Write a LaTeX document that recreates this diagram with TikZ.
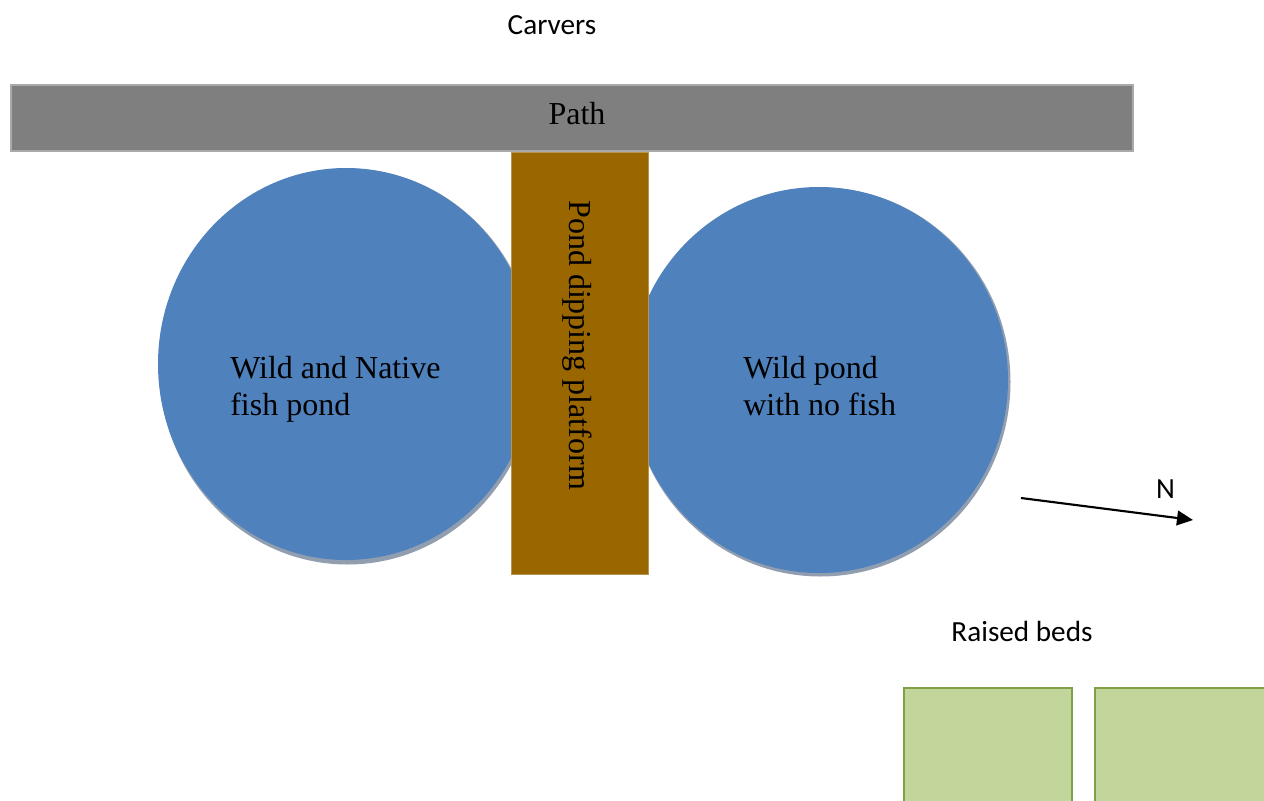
\documentclass[tikz,border=0pt]{standalone}
\usepackage{fontspec}
\usetikzlibrary{arrows.meta}
\setmainfont{Liberation Serif}
\newfontfamily\calib{Carlito}
\definecolor{pondblue}{RGB}{79,129,189}
\definecolor{pondshadow}{RGB}{145,158,175}
\definecolor{pathgrey}{RGB}{127,127,127}
\definecolor{pathedge}{RGB}{170,170,170}
\definecolor{deckbrown}{RGB}{153,102,0}
\definecolor{bedgreen}{RGB}{194,214,155}
\definecolor{bededge}{RGB}{128,160,70}
\tikzset{
  x=0.75pt,y=-0.75pt,
  serif/.style={font=\fontsize{24}{27.8}\selectfont,text=black,inner sep=0pt},
  sans/.style={font=\calib\fontsize{21.9}{26}\selectfont,text=black,inner sep=0pt},
  bed/.style={draw=bededge,line width=1.5pt,fill=bedgreen},
}
\begin{document}
\begin{tikzpicture}
\useasboundingbox (0,0) rectangle (1264,800);
% ponds with their shadows
\fill[pondshadow] (347.5,366.5) ellipse [x radius=188.5,y radius=198];
\fill[pondblue] (346,364) ellipse [x radius=188,y radius=196];
\fill[pondshadow] (820.5,382) ellipse [x radius=190,y radius=194.5];
\fill[pondblue] (819,380) ellipse [x radius=189,y radius=193];
% path
\draw[draw=pathedge,line width=1.5pt,fill=pathgrey] (10.5,85) rectangle (1133,151);
\node[serif,anchor=base] (pathlabel) at (577,124) {Path};
% platform
\draw[draw=deckbrown!70!white,line width=0.4pt,fill=deckbrown] (511.5,152) rectangle (648.5,574);
\node[serif,rotate=-90,anchor=base west] (platform) at (569,200) {Pond dipping platform};
% pond labels
\node[serif,anchor=base west] (wildnative1) at (230,378) {Wild and Native};
\node[serif,anchor=base west] (wildnative2) at (230,415) {fish pond};
\node[serif,anchor=base west] (wild1) at (743,378) {Wild pond};
\node[serif,anchor=base west] (wild2) at (743,415) {with no fish};
% sans labels
\node[sans,anchor=base] (carvers) at (552,34) {Carvers};
\node[sans,anchor=base] (north) at (1165.5,498) {N};
\node[sans,anchor=base] (raised) at (1022,641) {Raised beds};
% north arrow
\coordinate (nstart) at (1021,498);
\coordinate (nend) at (1193,520);
\draw[line width=1.6pt,-{Triangle[length=12pt,width=11pt]}] (nstart) -- (nend);
% raised beds
\draw[bed] (903.5,688) rectangle (1072,810);
\draw[bed] (1095,688) rectangle (1270,810);
\end{tikzpicture}
\end{document}
